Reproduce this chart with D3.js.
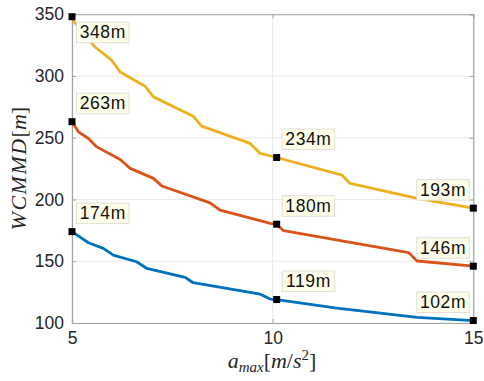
<!DOCTYPE html>
<html>
<head>
<meta charset="utf-8">
<script src="https://cdn.jsdelivr.net/npm/d3@7"></script>
<style>
  html, body { margin: 0; padding: 0; background: #ffffff; }
  svg { display: block; }
</style>
</head>
<body>
<svg id="chart" width="484" height="381"></svg>
<script>
// Worst-case MMD versus maximum acceleration, three configurations
const amaxYellow = [5, 5.05, 5.57, 5.99, 6.20, 6.82, 7.03, 8.02, 8.23, 9.44, 9.69, 10.1, 11.73, 11.93, 13.6, 15];
const wcmmdYellow = [348, 344, 323.5, 312.8, 303.3, 291.7, 283.1, 267.5, 259.4, 245.4, 237.3, 234, 219.7, 213.0, 200.9, 193];

const amaxOrange = [5, 5.16, 5.41, 5.62, 6.20, 6.45, 7.03, 7.24, 8.44, 8.69, 9.94, 10.1, 10.27, 13.39, 13.6, 15];
const wcmmdOrange = [263, 254.8, 249.4, 242.6, 232.4, 225.2, 217.1, 210.9, 197.3, 191.4, 180.6, 180, 174.7, 156.9, 150.2, 146];

const amaxBlue = [5, 5.12, 5.41, 5.78, 6.03, 6.61, 6.86, 7.82, 8.02, 9.69, 9.94, 10.1, 11.6, 13.6, 15];
const wcmmdBlue = [174, 171.3, 165.0, 160.4, 155.0, 149.6, 144.3, 137.0, 132.6, 123.3, 119.4, 119, 112.0, 104.6, 102];

// Data tips: [amax, value]
const tipAmax = [5, 10.1, 15];
const tipsYellow = [348, 234, 193];
const tipsOrange = [263, 180, 146];
const tipsBlue = [174, 119, 102];

const xTicks = [5, 10, 15];
const yTicks = [100, 150, 200, 250, 300, 350];

(function draw() {
  const svg = d3.select("#chart");
  const plotL = 72, plotR = 473.3, plotT = 14.25, plotB = 323;

  const x = d3.scaleLinear().domain([5, 15]).range([plotL, plotR]);
  const y = d3.scaleLinear().domain([100, 350]).range([plotB, plotT]);

  const axisColor = "#a3a3a3";
  const gridColor = "#ebebeb";
  const textColor = "#262626";

  // grid
  svg.append("g").selectAll("line").data(xTicks).join("line")
    .attr("x1", d => x(d)).attr("x2", d => x(d))
    .attr("y1", plotT).attr("y2", plotB)
    .attr("stroke", gridColor).attr("stroke-width", 1);
  svg.append("g").selectAll("line").data(yTicks).join("line")
    .attr("x1", plotL).attr("x2", plotR)
    .attr("y1", d => y(d)).attr("y2", d => y(d))
    .attr("stroke", gridColor).attr("stroke-width", 1);

  // axes (ticks point inward)
  const tickLen = 4;
  const xAxis = svg.append("g").attr("transform", `translate(0,${plotB})`)
    .call(d3.axisBottom(x).tickValues(xTicks).tickSize(-tickLen).tickPadding(9).tickFormat(d3.format("d")));
  const yAxis = svg.append("g").attr("transform", `translate(${plotL},0)`)
    .call(d3.axisLeft(y).tickValues(yTicks).tickSize(-tickLen).tickPadding(8).tickFormat(d3.format("d")));
  const xTop = svg.append("g").attr("transform", `translate(0,${plotT})`)
    .call(d3.axisTop(x).tickValues(xTicks).tickSize(-tickLen).tickFormat(""));
  const yRight = svg.append("g").attr("transform", `translate(${plotR},0)`)
    .call(d3.axisRight(y).tickValues(yTicks).tickSize(-tickLen).tickFormat(""));

  [xAxis, yAxis, xTop, yRight].forEach(g => {
    g.select(".domain").attr("stroke", axisColor).attr("stroke-width", 1.2);
    g.selectAll(".tick line").attr("stroke", axisColor).attr("stroke-width", 1);
    g.selectAll(".tick text")
      .attr("fill", textColor)
      .style("font-family", "'Liberation Sans', Arial, Helvetica, sans-serif")
      .style("font-size", "17.5px");
  });

  // curves
  const series = [
    { xs: amaxYellow, ys: wcmmdYellow, color: "#EDB120", tips: tipsYellow },
    { xs: amaxOrange, ys: wcmmdOrange, color: "#D95319", tips: tipsOrange },
    { xs: amaxBlue, ys: wcmmdBlue, color: "#0072BD", tips: tipsBlue }
  ];

  const line = d3.line().x(d => x(d[0])).y(d => y(d[1]));

  series.forEach(s => {
    svg.append("path")
      .datum(d3.zip(s.xs, s.ys))
      .attr("d", line)
      .attr("fill", "none")
      .attr("stroke", s.color)
      .attr("stroke-width", 2.8)
      .attr("stroke-linejoin", "round");
  });

  // data tip boxes and markers
  const boxW = 52.5, boxH = 20.5;
  series.forEach((s, si) => {
    s.tips.forEach((v, i) => {
      const px = x(tipAmax[i]), py = y(v);
      let bx, by;
      if (i === 0) {
        bx = px + 4.5;
        by = (si === 0) ? py + 5.5 : py - 28.5;
      } else if (i === 1) {
        bx = px + 5.5;
        by = py - 28.5;
      } else {
        bx = px - 4 - boxW;
        by = py - 28.5;
      }
      const g = svg.append("g");
      g.append("rect")
        .attr("x", bx).attr("y", by)
        .attr("width", boxW).attr("height", boxH)
        .attr("fill", "#fdfde9")
        .attr("stroke", "#e0e0d8")
        .attr("stroke-width", 1);
      g.append("text")
        .attr("x", bx + boxW / 2).attr("y", by + boxH / 2 + 6)
        .attr("text-anchor", "middle")
        .attr("fill", "#111111")
        .attr("letter-spacing", "0.6px")
        .style("font-family", "'Liberation Sans', Arial, Helvetica, sans-serif")
        .style("font-size", "17.5px")
        .text(`${v}m`);
      svg.append("rect")
        .attr("x", px - 3.5).attr("y", py - 3.5)
        .attr("width", 7).attr("height", 7)
        .attr("fill", "#000000");
    });
  });

  // axis labels (math italic)
  const serif = "'Liberation Serif', 'Times New Roman', Times, serif";
  const yl = svg.append("text")
    .attr("transform", `translate(26,${(plotT + plotB) / 2}) rotate(-90)`)
    .attr("text-anchor", "middle")
    .attr("fill", textColor)
    .style("font-family", serif)
    .style("font-size", "22px");
  yl.append("tspan").style("font-style", "italic").attr("letter-spacing", "1.5px").text("WCMMD");
  yl.append("tspan").text("[");
  yl.append("tspan").style("font-style", "italic").text("m");
  yl.append("tspan").text("]");

  const xl = svg.append("text")
    .attr("x", 272).attr("y", 368)
    .attr("text-anchor", "middle")
    .attr("fill", textColor)
    .style("font-family", serif)
    .style("font-size", "22px");
  xl.append("tspan").style("font-style", "italic").text("a");
  xl.append("tspan").style("font-style", "italic").style("font-size", "15px").attr("dy", 4).text("max");
  xl.append("tspan").attr("dy", -4).text("[");
  xl.append("tspan").style("font-style", "italic").text("m");
  xl.append("tspan").text("/");
  xl.append("tspan").style("font-style", "italic").text("s");
  xl.append("tspan").style("font-size", "15px").attr("dy", -8).text("2");
  xl.append("tspan").attr("dy", 8).text("]");
})();
</script>
</body>
</html>
